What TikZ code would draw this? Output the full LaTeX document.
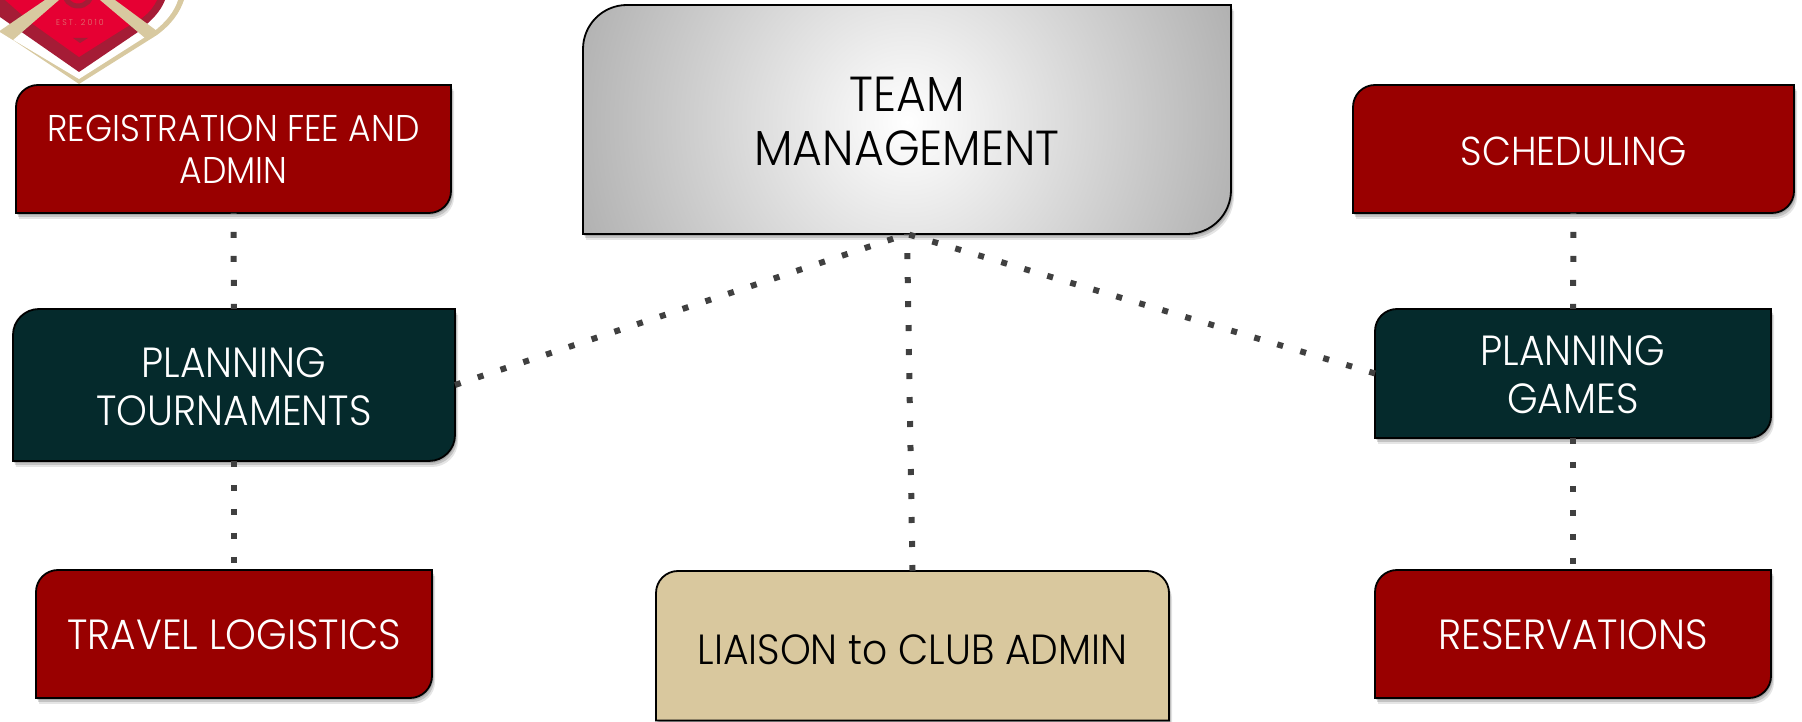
\documentclass[tikz,border=0pt]{standalone}
\usepackage{fontspec}
\setmainfont{Poppins Light}[FakeStretch=0.93]
\usetikzlibrary{positioning, shadows}

\definecolor{boxred}{HTML}{990000}
\definecolor{boxteal}{HTML}{052A2C}
\definecolor{boxtan}{HTML}{D9C89E}
\definecolor{dotgrey}{HTML}{404040}
\definecolor{logogold}{HTML}{D8C9A0}
\definecolor{logodark}{HTML}{A51C36}
\definecolor{logored}{HTML}{E60033}

% box with two round corners: name, fill, centre x, centre y, half width, half height, radius, text
\newcommand{\tabbox}[9][]{
    \path[boxline, fill=#3, softshadow]
        (#4-#6,#5-#7) -- (#4-#6,#5+#7-#8) arc (180:90:#8) -- (#4+#6,#5+#7)
        -- (#4+#6,#5-#7+#8) arc (0:-90:#8) -- cycle;
    \node[boxlabel, minimum width=2*#6 cm, minimum height=2*#7 cm, #1] (#2) at (#4,#5) {#9};
}
% taller first line, pushes the text of a box down
\newcommand{\droptext}[1]{\rule{0pt}{\dimexpr\fontcharht\font`H+#1\relax}}

\tikzset{
    softshadow/.style={
        general shadow={shadow xshift=0.01, shadow yshift=-0.02, fill=black, opacity=0.15},
        general shadow={shadow xshift=0.02, shadow yshift=-0.04, fill=black, opacity=0.15},
        general shadow={shadow xshift=0.03, shadow yshift=-0.06, fill=black, opacity=0.10}},
    boxline/.style={draw=black, line width=0.018cm},
    boxlabel/.style={inner sep=0pt, outer sep=0pt, align=center, text=white,
        font=\fontsize{12}{13.7}\selectfont},
    link/.style={dotgrey, line width=0.06cm, dash pattern=on 0.06cm off 0.18cm},
    linkup/.style={link, dash phase=0.05cm}
}

\begin{document}
\begin{tikzpicture}[x=1cm, y=1cm]
    \useasboundingbox (0,0) rectangle (18.02,7.22);

    % logo
    \begin{scope}
        \clip (0,0) rectangle (18.02,7.22);
        \fill[logogold] (0.79,6.38) -- (1.57,6.87) .. controls (1.72,6.98) and (1.8,7.1) .. (1.84,7.22)
            -- (0,7.22) -- (0,6.9) -- (0.13,6.82) -- cycle;
        \fill[white] (0.79,6.43) -- (1.53,6.9) .. controls (1.66,7.0) and (1.74,7.1) .. (1.78,7.22)
            -- (0,7.22) -- (0,6.9) -- cycle;
        \fill[logodark] (0.79,6.5) -- (1.38,6.9) -- (1.48,6.99) .. controls (1.56,7.06) and (1.62,7.14) .. (1.65,7.22)
            -- (0,7.22) -- (0,7.05) -- cycle;
        \fill[logored] (0.79,6.65) -- (1.25,6.94) -- (1.42,7.04) .. controls (1.5,7.1) and (1.54,7.16) .. (1.57,7.22)
            -- (0.05,7.22) -- (0.3,7.0) -- cycle;
        \fill[logodark] (0.73,6.84) -- (0.88,6.84) -- (0.8,6.79) -- cycle;
        \draw[logodark, line width=0.05cm] (0.78,7.3) circle (0.14);
        \node[text=logogold!60!logored, font=\fontsize{2.4}{3}\selectfont] (est) at (0.8,7) {E S T .\ \ 2 0 1 0};
        \fill[logogold] (0,6.913) -- (0.45,7.22) -- (0.59,7.22) -- (0.13,6.82) -- (0,6.9) -- cycle;
        \fill[logogold] (1,7.22) -- (1.15,7.22) -- (1.57,6.91) -- (1.45,6.84) -- cycle;
    \end{scope}

    \tabbox[font=\fontsize{10.6}{12}\selectfont]{regfee}{boxred}{2.335}{5.73}{2.175}{0.64}{0.22}{REGISTRATION FEE AND\\ADMIN}
    \tabbox{plantour}{boxteal}{2.34}{3.37}{2.21}{0.76}{0.26}{\droptext{0.045cm}PLANNING\\TOURNAMENTS}
    \tabbox{travel}{boxred}{2.34}{0.88}{1.98}{0.64}{0.22}{\droptext{0.02cm}TRAVEL LOGISTICS}
    \tabbox[font=\fontsize{11.5}{13}\selectfont]{sched}{boxred}{15.735}{5.73}{2.205}{0.64}{0.22}{\droptext{0.045cm}SCHEDULING}
    \tabbox{plangames}{boxteal}{15.73}{3.485}{1.98}{0.645}{0.22}{\droptext{0.02cm}PLANNING\\GAMES}
    \tabbox{reserve}{boxred}{15.73}{0.88}{1.98}{0.64}{0.22}{\droptext{0.02cm}RESERVATIONS}

    \path[boxline, fill=boxtan, softshadow]
        (6.56,0.015) -- (6.56,1.29) arc (180:90:0.22) -- (11.47,1.51) arc (90:0:0.22) -- (11.69,0.015) -- cycle;
    \node[boxlabel, text=black, minimum width=5.13cm, minimum height=1.495cm] (liaison) at (9.125,0.7625)
        {\droptext{0.08cm}LIAISON to CLUB ADMIN};

    \path[boxline, softshadow,
          path picture={\shade[inner color=white, outer color=black!32] (9.07,6) circle (3.6);}]
        (5.83,4.88) -- (5.83,6.73) arc (180:90:0.44) -- (12.31,7.17)
        -- (12.31,5.32) arc (0:-90:0.44) -- cycle;
    \node[boxlabel, text=black, minimum width=6.48cm, minimum height=2.29cm,
          font=\fontsize{14}{15.2}\selectfont] (team) at (9.07,6.025) {\droptext{0.04cm}TEAM\\MANAGEMENT};

    \draw[linkup] (regfee) -- (plantour);
    \draw[link] (plantour) -- (travel);
    \draw[linkup] (sched) -- (plangames);
    \draw[link] (plangames) -- (reserve);
    \draw[link] (plantour.east) -- (team.south);
    \draw[link] (plangames.west) -- (team.south);
    \draw[link] (liaison.north) -- (team.south);
\end{tikzpicture}
\end{document}
